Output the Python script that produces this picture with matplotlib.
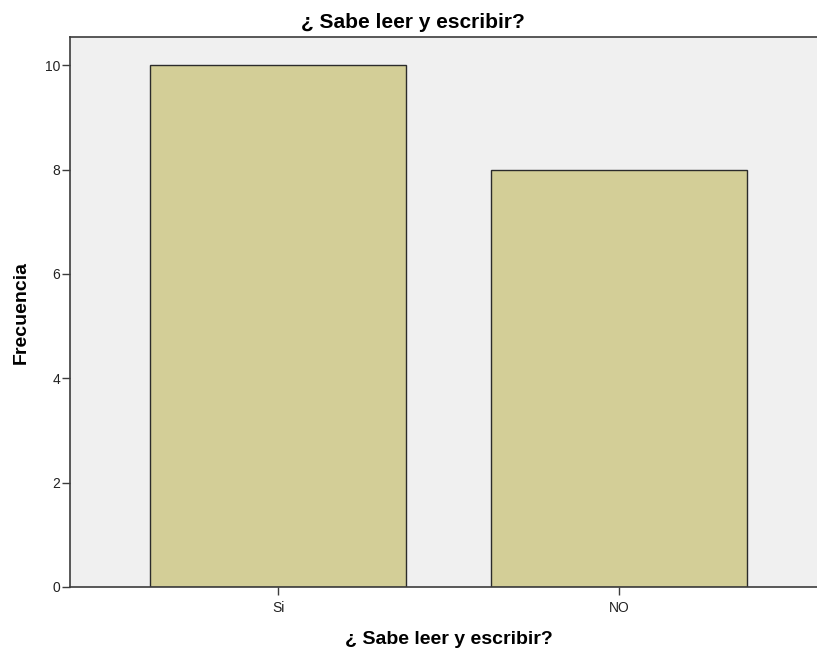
import matplotlib
matplotlib.use('Agg')
from matplotlib import pyplot as plt

categories = ['Si', 'NO']
frequencies = [10, 8]
y_ticks = [0, 2, 4, 6, 8, 10]

plt.rcParams['font.family'] = ['Liberation Sans', 'DejaVu Sans']

fig = plt.figure(figsize=(8.17, 6.52), dpi=100)
ax = fig.add_axes([70 / 817, 1 - 587 / 652, (817 - 70) / 817, (587 - 37) / 652])
ax.set_facecolor('#f0f0f0')

positions = list(range(len(categories)))
ax.bar(positions, frequencies, width=0.75, color='#d3ce97', edgecolor='#2b2b2b', linewidth=1.0, zorder=2)

ax.set_xlim(-0.61, 1.58)
ax.set_ylim(0, 10.54)
ax.set_xticks(positions)
ax.set_xticklabels(categories)
ax.set_yticks(y_ticks)

for side in ['left', 'bottom', 'top']:
    ax.spines[side].set_color('#3c3c3c')
    ax.spines[side].set_linewidth(1.2)
ax.spines['right'].set_visible(False)

ax.tick_params(axis='both', direction='out', length=6, width=1.0, color='#3c3c3c', labelsize=10, labelcolor='#222222')
ax.tick_params(axis='x', pad=4)
ax.tick_params(axis='y', pad=1)

# titles placed like the SPSS output
fig.text(413 / 817, 1 - 22 / 652, '¿ Sabe leer y escribir?', fontsize=15, fontweight='bold',
         ha='center', va='center')
fig.text(449 / 817, 1 - 639 / 652, '¿ Sabe leer y escribir?', fontsize=14, fontweight='bold',
         ha='center', va='center')
fig.text(21 / 817, 1 - 312 / 652, 'Frecuencia', fontsize=14, fontweight='bold',
         ha='center', va='center', rotation=90)

fig.savefig('out.png', dpi=100)
